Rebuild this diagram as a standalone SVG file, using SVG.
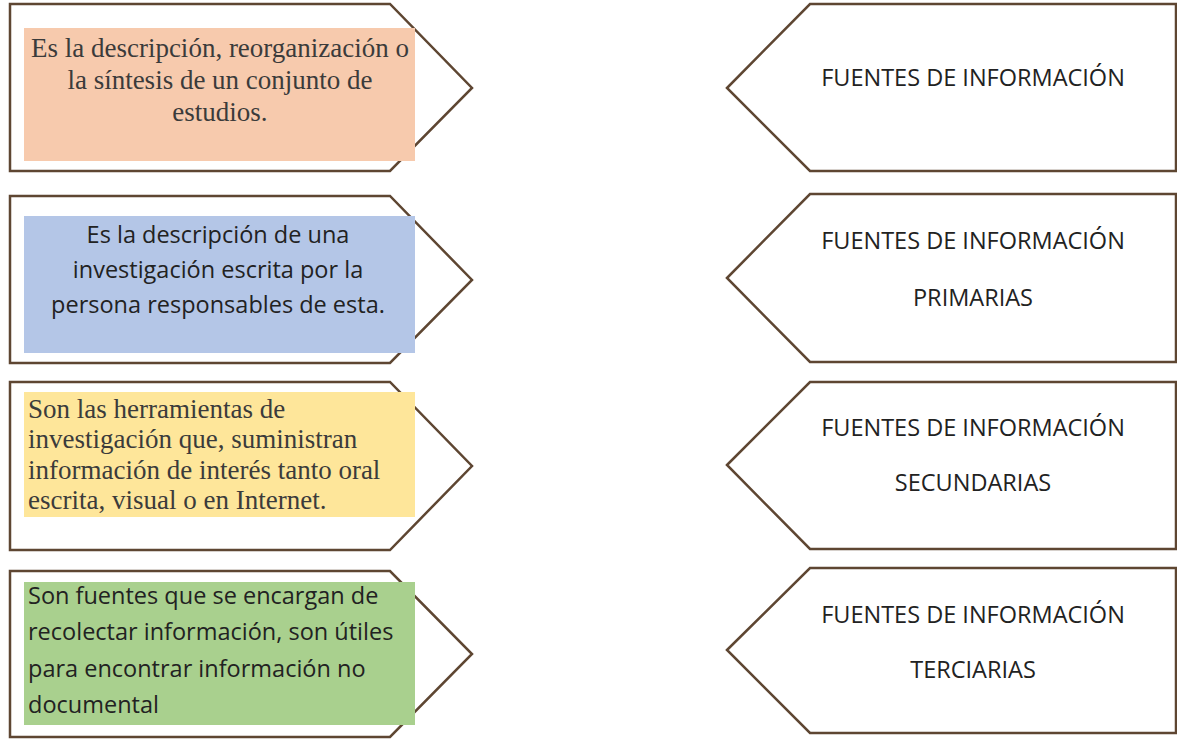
<svg xmlns="http://www.w3.org/2000/svg" width="1177" height="739" viewBox="0 0 1177 739">
<style>
.out{fill:#ffffff;stroke:#5e4632;stroke-width:2.5;stroke-linejoin:miter}
.serif{font-family:"Liberation Serif","Times New Roman",serif;font-size:27px;fill:#3b3b3b}
.sans{font-family:"Open Sans","Noto Sans",sans-serif;font-size:23.5px;fill:#222222}
.c{text-anchor:middle}
</style>
<rect width="1177" height="739" fill="#ffffff"/>
<g id="connectors"></g>
<g id="def1">
<polygon class="out" points="10,4 390,4 472,88 390,171 10,171"/>
<rect x="24" y="28" width="391" height="133" fill="#f7caad"/>
<text class="serif c" x="220" y="57">Es la descripción, reorganización o</text>
<text class="serif c" x="220" y="89">la síntesis de un conjunto de</text>
<text class="serif c" x="220" y="121">estudios.</text>
</g>
<g id="def2">
<polygon class="out" points="10,196 390,196 472,280 390,363 10,363"/>
<rect x="24" y="216" width="391" height="137" fill="#b4c6e7"/>
<text class="sans c" x="218" y="243">Es la descripción de una</text>
<text class="sans c" x="218" y="278">investigación escrita por la</text>
<text class="sans c" x="218" y="313">persona responsables de esta.</text>
</g>
<g id="def3">
<polygon class="out" points="10,382 390,382 472,466 390,550 10,550"/>
<rect x="24" y="392" width="391" height="125" fill="#fee69a"/>
<text class="serif" x="28" y="418">Son las herramientas de</text>
<text class="serif" x="28" y="448">investigación que, suministran</text>
<text class="serif" x="28" y="479">información de interés tanto oral</text>
<text class="serif" x="28" y="509">escrita, visual o en Internet.</text>
</g>
<g id="def4">
<polygon class="out" points="10,571 390,571 472,654 390,737 10,737"/>
<rect x="24" y="582" width="391" height="143" fill="#a9d08e"/>
<text class="sans" x="28" y="604">Son fuentes que se encargan de</text>
<text class="sans" x="28" y="640">recolectar información, son útiles</text>
<text class="sans" x="28" y="677">para encontrar información no</text>
<text class="sans" x="28" y="713">documental</text>
</g>
<g id="src1">
<polygon class="out" points="727,88 810,4 1176,4 1176,171 810,171"/>
<text class="sans c" x="973" y="86">FUENTES DE INFORMACIÓN</text>
</g>
<g id="src2">
<polygon class="out" points="727,278 810,194 1176,194 1176,362 810,362"/>
<text class="sans c" x="973" y="249">FUENTES DE INFORMACIÓN</text>
<text class="sans c" x="973" y="306">PRIMARIAS</text>
</g>
<g id="src3">
<polygon class="out" points="727,465 810,382 1176,382 1176,549 810,549"/>
<text class="sans c" x="973" y="436">FUENTES DE INFORMACIÓN</text>
<text class="sans c" x="973" y="491">SECUNDARIAS</text>
</g>
<g id="src4">
<polygon class="out" points="727,650 810,568 1176,568 1176,733 810,733"/>
<text class="sans c" x="973" y="623">FUENTES DE INFORMACIÓN</text>
<text class="sans c" x="973" y="678">TERCIARIAS</text>
</g>
</svg>
